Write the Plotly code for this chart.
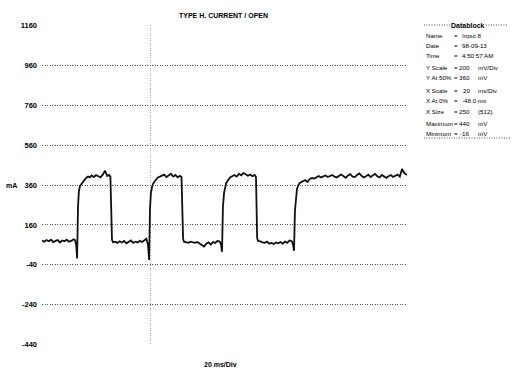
import plotly.graph_objects as go

# ---------------- data ----------------
title_text = "TYPE H. CURRENT / OPEN"
x_title = "20 ms/Div"
y_unit = "mA"
y_ticks = [1160, 960, 760, 560, 360, 160, -40, -240, -440]
x_grid = [0]

time_ms = [
    -48, -47, -46, -45, -44, -43, -42, -41, -40, -39, -38, -37, -36, -35, -34, -33.3, -32.8, -32.4,
    -32.0, -31.6, -31.1, -30.2, -29.3, -28.4, -27.5, -26.7,
    -26, -25, -24, -23, -22, -21, -20, -19, -18.2, -17.6,
    -17.3, -16.9, -16.4,
    -15.5, -14.5, -13.5, -12.5, -11.5, -10.5, -9.5, -8.5, -7.5, -6.5, -5.5, -4.5, -3.5, -2.5, -1.6, -0.9, -0.4,
    0.0, 0.4, 0.9, 1.3, 2.0, 2.7, 3.5, 4.4,
    5.3, 6.3, 7.3, 8.3, 9.3, 10.3, 11.3, 12.3, 13.3, 14.0,
    14.4, 14.7, 15.1,
    16, 17, 18, 19, 20, 21, 22, 23, 24, 25, 26, 27, 28, 29, 30, 31, 31.6, 32.0,
    32.4, 32.9, 33.4, 33.8, 34.7, 35.6, 36.5,
    37.5, 38.5, 39.5, 40.5, 41.5, 42.5, 43.5, 44.5, 45.5, 46.5, 47.1,
    47.4, 47.6, 48.0,
    49, 50, 51, 52, 53, 54, 55, 56, 57, 58, 59, 60, 61, 62, 63, 63.6, 64.0,
    64.4, 64.9, 65.3, 66.0, 66.7, 67.8, 68.9, 70, 71, 72, 73, 74.2,
    75, 76, 77, 78, 79, 80, 81, 82, 83, 84, 85, 86, 87, 88, 89, 90, 91, 92, 93, 94,
    95, 96, 97, 98, 99, 100, 101, 102, 103, 104, 105, 106, 107, 108, 109, 110, 111, 112, 113, 114.2,
]
current_ma = [
    82, 76, 84, 78, 86, 74, 80, 84, 72, 82, 78, 86, 76, 80, 88, 84, 60, -8,
    250, 330, 355, 370, 385, 395, 402, 398,
    408, 400, 410, 404, 398, 412, 432, 405, 410, 402,
    200, 85, 72,
    76, 70, 78, 72, 80, 68, 74, 82, 70, 76, 72, 80, 74, 84, 90, 60, -16,
    240, 320, 350, 365, 378, 390, 398, 402,
    405, 412, 400, 408, 416, 402, 410, 398, 406, 400,
    210, 90, 76,
    74, 70, 76, 72, 70, 74, 68, 60, 52, 66, 72, 62, 74, 70, 80, 76, 60, 25,
    250, 320, 350, 368, 385, 398, 404,
    410, 402, 416, 408, 420, 414, 406, 412, 404, 410, 400,
    220, 95, 80,
    78, 72, 70, 76, 66, 70, 64, 72, 68, 74, 66, 76, 70, 82, 78, 60, 30,
    230, 300, 340, 362, 372, 378, 385, 375, 390, 395, 392, 400,
    405, 398, 402, 408, 400, 404, 410, 402, 398, 406, 412, 404, 396, 408, 414, 402, 400, 410, 418, 406,
    398, 404, 412, 400, 408, 416, 404, 398, 410, 402, 396, 404, 410, 400, 406, 412, 402, 440, 420, 410,
]

db_header = "Datablock"
db_labels = ["Name", "Date", "Time", "Y Scale", "Y At 50%", "X Scale", "X At 0%", "X Size", "Maximum", "Minimum"]
db_values = ["Input 8", "98-09-13", "4:50:57 AM", "200", "360", "20", "-48.0 ms", "250", "440", "-16"]
db_units = ["", "", "", "mV/Div", "mV", "ms/Div", "", "(512)", "mV", "mV"]

# ---------------- layout helpers ----------------
W, H = 513, 371
L, R, T, B = 42, 407, 25, 345
FONT = "Liberation Sans Narrow, Liberation Sans, Arial, sans-serif"
GRID_DASH = "1px,1.5px"


def px(xp):
    return (xp - L) / (R - L)


def py(yp):
    return (B - yp) / (B - T)


fig = go.Figure()
fig.add_trace(go.Scatter(x=time_ms, y=current_ma, mode="lines",
                         line=dict(color="#111111", width=1.8), hoverinfo="skip"))

fig.update_layout(
    width=W, height=H,
    margin=dict(l=L, r=W - R, t=T, b=H - B, autoexpand=False),
    paper_bgcolor="white", plot_bgcolor="white",
    showlegend=False,
    font=dict(family=FONT, size=7, color="black"),
)
fig.update_xaxes(range=[time_ms[0], time_ms[-1]], tickvals=x_grid, showticklabels=False,
                 showgrid=True, gridcolor="#aaaaaa", griddash=GRID_DASH, gridwidth=1,
                 zeroline=False, showline=False, ticks="", automargin=False)
fig.update_yaxes(range=[-442, 1162], tickvals=y_ticks, ticktext=[str(v) for v in y_ticks],
                 showgrid=True, gridcolor="#555555", griddash=GRID_DASH, gridwidth=1,
                 zeroline=False, showline=False, ticks="", automargin=False,
                 tickfont=dict(family=FONT, size=7.5, color="black", weight="bold"),
                 ticklabelstandoff=4)

ann = []
ann.append(dict(text="<b>" + title_text + "</b>", x=px(223), y=py(15), xref="paper", yref="paper",
                xanchor="center", yanchor="middle", showarrow=False, font=dict(size=7)))
ann.append(dict(text="<b>" + x_title + "</b>", x=px(220), y=py(364), xref="paper", yref="paper",
                xanchor="center", yanchor="middle", showarrow=False, font=dict(size=7)))
ann.append(dict(text="<b>" + y_unit + "</b>", x=px(11), y=360, xref="paper", yref="y",
                xanchor="center", yanchor="middle", showarrow=False, font=dict(size=7)))
ann.append(dict(text="<b>" + db_header + "</b>", x=px(468), y=py(25), xref="paper", yref="paper",
                xanchor="center", yanchor="middle", showarrow=False, font=dict(size=7)))

row_y = [35, 45, 55, 67, 77, 90, 100, 111, 123, 133]
fs = 6.2
for i, lab in enumerate(db_labels):
    y = py(row_y[i])
    ann.append(dict(text=lab, x=px(424), y=y, xref="paper", yref="paper", xanchor="left",
                    yanchor="middle", showarrow=False, font=dict(size=fs)))
    ann.append(dict(text="=", x=px(456), y=y, xref="paper", yref="paper", xanchor="center",
                    yanchor="middle", showarrow=False, font=dict(size=fs)))
    val = db_values[i]
    if db_units[i]:
        ann.append(dict(text=val, x=px(472), y=y, xref="paper", yref="paper", xanchor="right",
                        yanchor="middle", showarrow=False, font=dict(size=fs)))
        ann.append(dict(text=db_units[i], x=px(476), y=y, xref="paper", yref="paper", xanchor="left",
                        yanchor="middle", showarrow=False, font=dict(size=fs)))
    else:
        ann.append(dict(text=val, x=px(460), y=y, xref="paper", yref="paper", xanchor="left",
                        yanchor="middle", showarrow=False, font=dict(size=fs)))
fig.update_layout(annotations=ann)

shapes = []
for x0, x1, yy in [(424, 450, 25), (486, 508, 25), (424, 510, 138)]:
    shapes.append(dict(type="line", xref="paper", yref="paper", x0=px(x0), x1=px(x1),
                       y0=py(yy), y1=py(yy), line=dict(color="#555555", width=1, dash=GRID_DASH)))
fig.update_layout(shapes=shapes)

fig.write_html("out.html", config={"displayModeBar": False},
               post_script="document.body.style.margin='0px';document.body.style.overflow='hidden';")
